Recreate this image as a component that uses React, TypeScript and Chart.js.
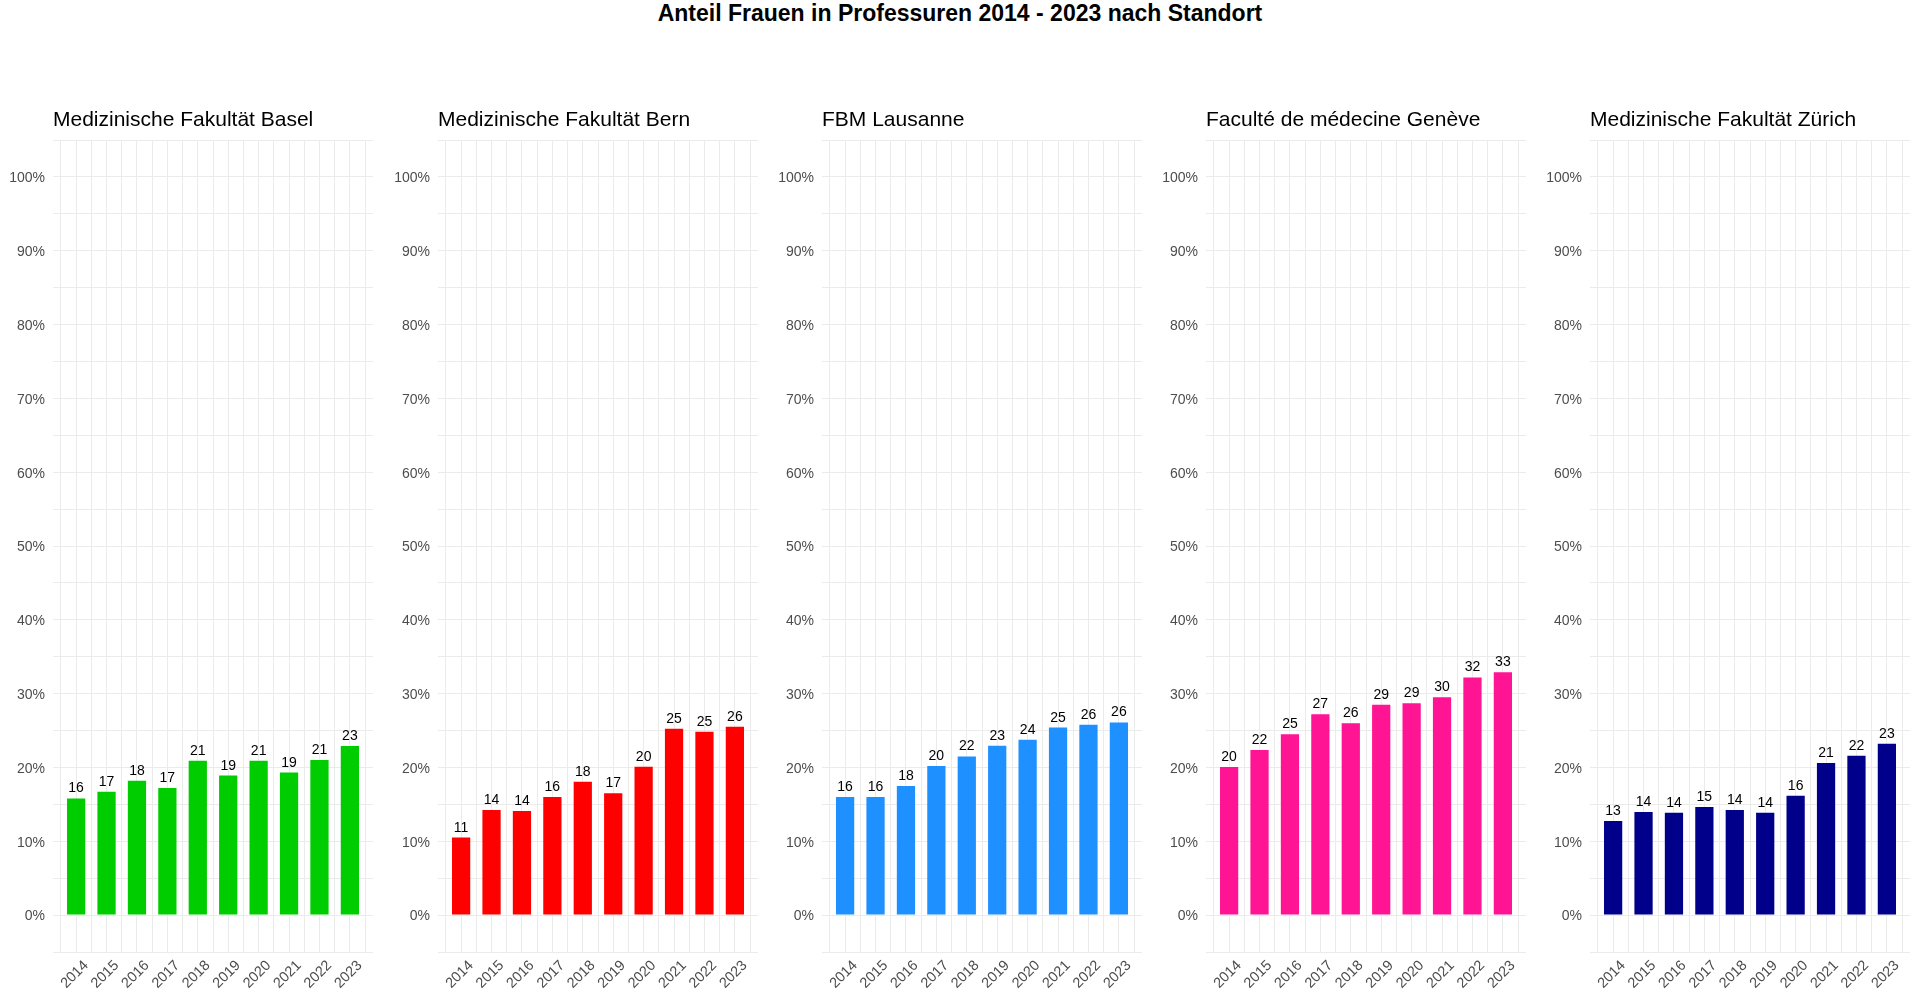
import React, { useEffect, useRef } from "react";
import { Chart, registerables } from "chart.js";

Chart.register(...registerables);

const FONT = '"Liberation Sans", Arial, sans-serif';
Chart.defaults.font.family = FONT;

// ---------- data ----------
const mainTitle = "Anteil Frauen in Professuren 2014 - 2023 nach Standort";
const years = ["2014", "2015", "2016", "2017", "2018", "2019", "2020", "2021", "2022", "2023"];

const basel = [15.8, 16.7, 18.2, 17.2, 20.9, 18.9, 20.9, 19.3, 21.0, 22.9];
const bern = [10.5, 14.25, 14.1, 16.0, 18.05, 16.5, 20.1, 25.25, 24.85, 25.5];
const lausanne = [16.0, 16.0, 17.5, 20.2, 21.5, 22.95, 23.75, 25.4, 25.8, 26.1];
const geneve = [20.05, 22.35, 24.5, 27.2, 26.0, 28.5, 28.7, 29.5, 32.2, 32.9];
const zuerich = [12.75, 13.95, 13.85, 14.65, 14.25, 13.85, 16.15, 20.6, 21.6, 23.2];

const siteTitles = [
  "Medizinische Fakultät Basel",
  "Medizinische Fakultät Bern",
  "FBM Lausanne",
  "Faculté de médecine Genève",
  "Medizinische Fakultät Zürich",
];
const siteValues = [basel, bern, lausanne, geneve, zuerich];
const siteColors = ["#00CD00", "#FF0000", "#1E90FF", "#FF1493", "#00008B"];

const yMin = -5;
const yMax = 105;
const yGridStep = 5;
const yLabelStep = 10;

// ---------- layout ----------
const canvasLefts = [0, 385, 769, 1153, 1537];
const CANVAS_W = 383;
const CANVAS_TOP = 90;
const CANVAS_H = 912;

const valueLabels = {
  id: "valueLabels",
  afterDatasetsDraw(chart: any) {
    const ctx = chart.ctx;
    const meta = chart.getDatasetMeta(0);
    const data = chart.data.datasets[0].data as any[];
    ctx.save();
    ctx.font = `14px ${FONT}`;
    ctx.fillStyle = "#000000";
    ctx.textAlign = "center";
    ctx.textBaseline = "alphabetic";
    meta.data.forEach((bar: any, i: number) => {
      ctx.fillText(String(Math.round(data[i].y)), bar.x, bar.y - 6);
    });
    ctx.restore();
  },
};

function Panel({ index }: { index: number }) {
  const ref = useRef<HTMLCanvasElement>(null);
  useEffect(() => {
    if (!ref.current) return;
    const values = siteValues[index];
    const xGridTicks: number[] = [];
    for (let v = 0.5; v <= years.length + 0.5; v += 0.5) xGridTicks.push(v);
    const yGridTicks: number[] = [];
    for (let v = yMin; v <= yMax; v += yGridStep) yGridTicks.push(v);

    const chart = new Chart(ref.current, {
      type: "bar",
      data: {
        datasets: [
          {
            data: values.map((v, i) => ({ x: i + 1, y: v })),
            backgroundColor: siteColors[index],
            borderWidth: 0,
            // ruler spacing is half a category (minor grid ticks), so 1.2 => 60% of a category
            barPercentage: 1.2,
            categoryPercentage: 1,
          },
        ],
      },
      options: {
        animation: false,
        responsive: false,
        maintainAspectRatio: false,
        devicePixelRatio: 1,
        layout: { padding: { left: 0, right: 10, top: 0, bottom: 0 } },
        plugins: {
          legend: { display: false },
          tooltip: { enabled: false },
          title: {
            display: true,
            text: siteTitles[index],
            align: "start",
            fullSize: false,
            color: "#000000",
            font: { size: 21, weight: "normal", family: FONT, lineHeight: 1.2 },
            padding: { top: 17.8, bottom: 7 },
          },
        },
        scales: {
          x: {
            type: "linear",
            min: 0.24,
            max: years.length + 0.76,
            offset: false,
            grid: { color: "#EBEBEB", lineWidth: 1, drawTicks: false, offset: false },
            border: { display: false },
            afterBuildTicks: (axis: any) => {
              axis.ticks = xGridTicks.map((v) => ({ value: v }));
            },
            afterFit: (axis: any) => {
              axis.height = 50;
            },
            ticks: {
              autoSkip: false,
              maxRotation: 45,
              minRotation: 45,
              padding: 5,
              labelOffset: 10,
              color: "#4D4D4D",
              font: { size: 14.5, family: FONT },
              callback: (v: any) => (Number.isInteger(v) ? years[v - 1] : ""),
            },
          },
          y: {
            min: yMin,
            max: yMax,
            grid: { color: "#EBEBEB", lineWidth: 1, drawTicks: false },
            border: { display: false },
            afterBuildTicks: (axis: any) => {
              axis.ticks = yGridTicks.map((v) => ({ value: v }));
            },
            afterFit: (axis: any) => {
              axis.width = 53;
            },
            ticks: {
              autoSkip: false,
              padding: 8,
              labelOffset: 1.5,
              color: "#4D4D4D",
              font: { size: 14, family: FONT },
              callback: (v: any) =>
                v >= 0 && v <= 100 && v % yLabelStep === 0 ? `${v}%` : "",
            },
          },
        },
      },
      plugins: [valueLabels],
    } as any);
    return () => chart.destroy();
  }, [index]);

  return (
    <canvas
      ref={ref}
      width={CANVAS_W}
      height={CANVAS_H}
      style={{
        position: "absolute",
        left: canvasLefts[index],
        top: CANVAS_TOP,
        width: CANVAS_W,
        height: CANVAS_H,
        display: "block",
      }}
    />
  );
}

export default function App() {
  useEffect(() => {
    document.body.style.margin = "0";
    document.body.style.background = "#ffffff";
  }, []);
  return (
    <div
      style={{
        position: "relative",
        width: 1920,
        height: 1002,
        overflow: "hidden",
        background: "#ffffff",
      }}
    >
      <div
        style={{
          position: "absolute",
          top: 2,
          left: 0,
          width: 1920,
          textAlign: "center",
          fontFamily: FONT,
          fontWeight: "bold",
          fontSize: 23,
          lineHeight: "23px",
          color: "#000000",
        }}
      >
        {mainTitle}
      </div>
      {siteTitles.map((_, i) => (
        <Panel key={i} index={i} />
      ))}
    </div>
  );
}
